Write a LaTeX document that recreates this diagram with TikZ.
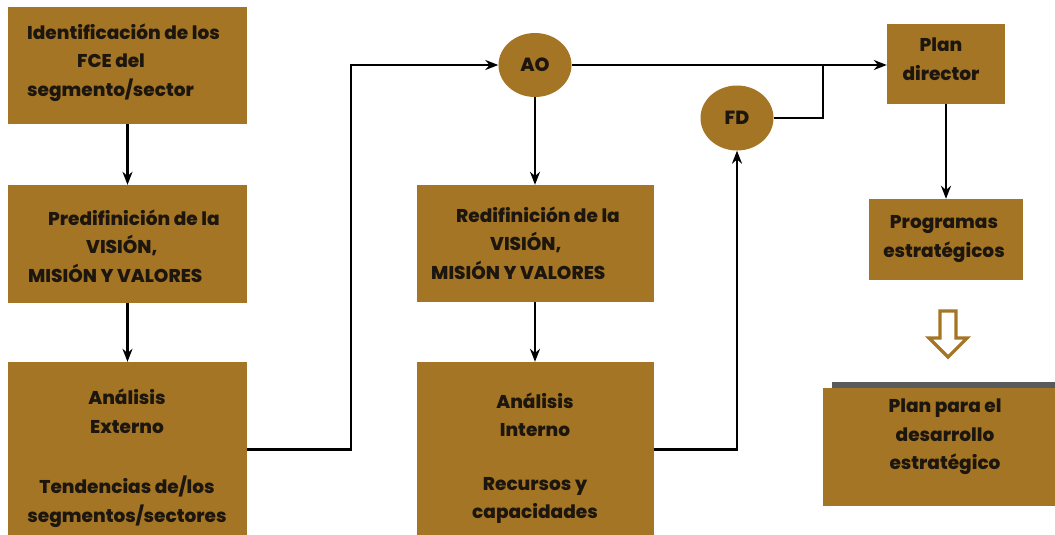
\documentclass[tikz,border=0pt]{standalone}
\usepackage{fontspec}
\setmainfont{Poppins}[BoldFont={Poppins ExtraBold}]
\usetikzlibrary{arrows.meta,shapes.geometric}
\definecolor{boxbrown}{RGB}{164,117,36}
\definecolor{txtdark}{RGB}{28,22,14}
\definecolor{shadowgrey}{RGB}{90,90,92}
\tikzset{
  box/.style={rectangle, fill=boxbrown, draw=none, inner sep=0pt},
  oval/.style={ellipse, fill=boxbrown, draw=none, inner sep=0pt, font=\bfseries\fontsize{19}{20}\selectfont, text=txtdark},
  txt/.style={inner sep=0pt, text=txtdark, font=\bfseries\fontsize{18.5}{28.5}\selectfont},
  conn/.style={line width=2.2pt, black},
  arr/.style={conn, -{Stealth[length=13pt,width=10pt]}},
  hollow/.style={draw=boxbrown, fill=white, line width=3.2pt, line join=miter}
}
\begin{document}
\begin{tikzpicture}[x=1pt,y=-1pt]
\useasboundingbox (0,0) rectangle (1055,535);
% boxes
\node[box, minimum width=239pt, minimum height=117pt] (b1) at (127.5,65.5) {};
\node[box, minimum width=239pt, minimum height=118pt] (b2) at (127.5,244) {};
\node[box, minimum width=239pt, minimum height=175pt] (b3) at (127.5,449.5) {};
\node[box, minimum width=237pt, minimum height=117pt] (rd) at (535,243.5) {};
\node[box, minimum width=237pt, minimum height=175pt] (ai) at (535,449.5) {};
\node[box, minimum width=118pt, minimum height=80pt] (pd) at (946,64) {};
\node[box, minimum width=154pt, minimum height=81pt] (pg) at (946,239.5) {};
\fill[shadowgrey] (832,382) rectangle (1055,390);
\node[box, minimum width=232pt, minimum height=118pt] (pp) at (939,447) {};
\node[oval, minimum width=73pt, minimum height=64pt] (ao) at (535,65) {AO};
\node[oval, minimum width=73pt, minimum height=65pt] (fd) at (737,118) {FD};
% texts
\node[txt, anchor=west, align=left] (t1) at (27,62.5) {Identificación de los\\\hspace*{50pt}FCE del\\segmento/sector};
\node[txt, anchor=west, align=left] (t2) at (28,246) {\hspace*{20pt}Predifinición de la\\\hspace*{58pt}VISIÓN,\\MISIÓN Y VALORES};
\node[txt, align=center] (t3) at (127,458) {Análisis\\Externo\\[32pt]Tendencias de/los\\segmentos/sectores};
\node[txt, anchor=west, align=left] (t4) at (431,243) {\hspace*{25pt}Redifinición de la\\\hspace*{59pt}VISIÓN,\\MISIÓN Y VALORES};
\node[txt, align=center] (t5) at (535,458) {Análisis\\Interno\\[25pt]Recursos y\\capacidades};
\node[txt, align=center] (t6) at (941,59) {Plan\\director};
\node[txt, align=center] (t7) at (944,239) {Programas\\estratégicos};
\node[txt, align=center] (t8) at (945,437) {Plan para el\\desarrollo\\estratégico};
% connectors
\coordinate (j) at (823,65);
\draw[arr] (b1) -- (b2);
\draw[arr] (b2) -- (b3);
\draw[arr] (b3.east) -- ++(104,0) |- (ao.west);
\draw[arr] (ao.south) -- (ao.south |- rd.north);
\draw[arr] (rd) -- (ai);
\draw[arr] (ai.east) -| (fd.south);
\draw[arr] (ao.east) -- (ao.east -| pd.west);
\draw[conn] (fd.east) -| (j);
\draw[arr] (pd) -- (pg);
% hollow arrow
\draw[hollow] (940,311) -- (956,311) -- (956,338) -- (967,338) -- (948,357) -- (929,338) -- (940,338) -- cycle;
\end{tikzpicture}
\end{document}
